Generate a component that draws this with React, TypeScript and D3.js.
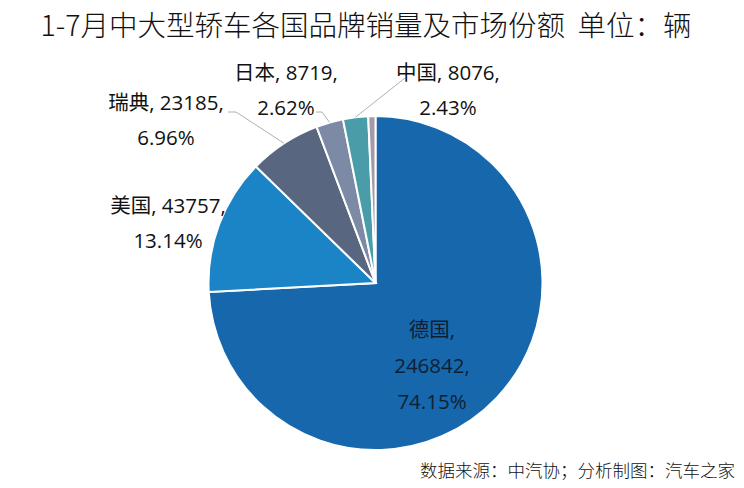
import * as d3 from "d3";

const countries = ["德国", "美国", "瑞典", "日本", "中国", "其他"];
const sales = [246842, 43757, 23185, 8719, 8076, 2317];
const shares = ["74.15%", "13.14%", "6.96%", "2.62%", "2.43%", ""];
const colors = ["#1767ad", "#1a84c6", "#58667f", "#7d8aa6", "#4a9da8", "#a49aa8"];

const W = 744;
const H = 488;
const cx = 375.5;
const cy = 283;
const R = 167;
const FONT = "'Noto Sans CJK SC', 'Noto Sans', sans-serif";
const LABEL_FONT = "'Open Sans', 'Noto Sans CJK SC', sans-serif";

// label placement (text centre, first line baseline) and leader line end
const labelPos = [
  { x: 432, y: 337, lines: 3 },
  { x: 168, y: 213, lines: 2 },
  { x: 166, y: 110, lines: 2 },
  { x: 286, y: 80, lines: 2 },
  { x: 448, y: 80, lines: 2 },
];
const leaderEnds: ([number, number] | null)[] = [
  null,
  null,
  [228, 112],
  [316, 112],
  [405, 78],
];

export default function App() {
  const pie = d3.pie<number>().sort(null).value((d) => d);
  const arcs = pie(sales);
  const arc = d3.arc<d3.PieArcDatum<number>>().innerRadius(0).outerRadius(R);

  return (
    <svg width={W} height={H} style={{ position: "absolute", left: 0, top: 0 }}>
      <rect width={W} height={H} fill="#fff" />
      <text x={366} y={36} textAnchor="middle" fontFamily={FONT} fontSize={28.5} fontWeight={300} fill="#111">
        1-7月中大型轿车各国品牌销量及市场份额&#160;&#160;单位：辆
      </text>
      <g transform={`translate(${cx},${cy})`}>
        {arcs.map((a, i) => (
          <path key={i} d={arc(a) ?? ""} fill={colors[i]} stroke="#fff" strokeWidth={2} />
        ))}
        {arcs.map((a, i) => {
          const end = leaderEnds[i];
          if (!end) return null;
          const mid = (a.startAngle + a.endAngle) / 2;
          const sx = Math.sin(mid) * R;
          const sy = -Math.cos(mid) * R;
          const ex = end[0] - cx;
          const ey = end[1] - cy;
          const kx = ex + (sx > ex ? 6 : -6);
          const pts: [number, number][] = i === 4 ? [[sx, sy], [ex, ey]] : [[sx, sy], [kx, ey], [ex, ey]];
          const d = i === 2
            ? `M${sx},${sy}L${ex + 8},${ey}L${ex},${ey}`
            : d3.line()(pts) ?? "";
          return <path key={i} d={d} fill="none" stroke="#b0b0b0" strokeWidth={1} />;
        })}
      </g>
      {labelPos.map((p, i) => {
        const first = `${countries[i]}, ${sales[i]},`;
        const lines = p.lines === 3 ? [`${countries[i]},`, `${sales[i]},`, shares[i]] : [first, shares[i]];
        return (
          <text key={i} textAnchor="middle" fontFamily={LABEL_FONT} fontSize={20.5} fill={i === 0 ? "#0d1f33" : "#111"}>
            {lines.map((t, j) => (
              <tspan key={j} x={p.x} y={p.y + j * (p.lines === 3 ? 36 : 35)}>
                {t}
              </tspan>
            ))}
          </text>
        );
      })}
      <text x={735} y={477} textAnchor="end" fontFamily={FONT} fontSize={17.5} fontWeight={300} fill="#111">
        数据来源：中汽协；分析制图：汽车之家
      </text>
    </svg>
  );
}
